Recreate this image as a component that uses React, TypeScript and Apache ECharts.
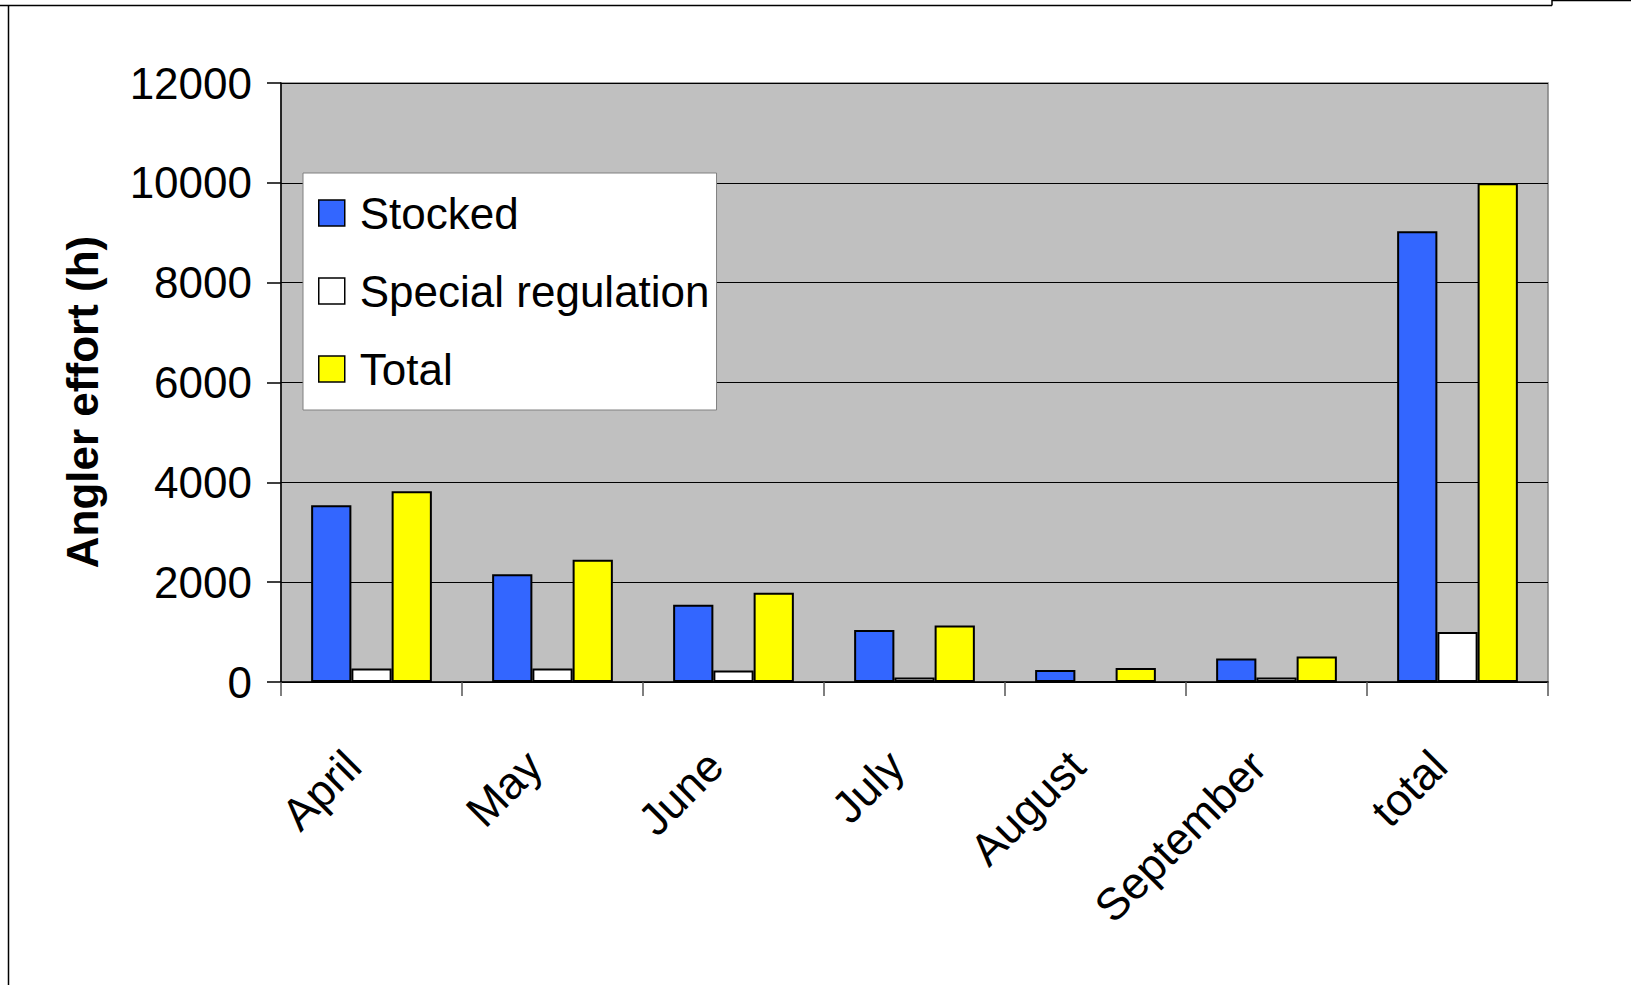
import React, { useEffect, useRef } from "react";
import * as echarts from "echarts";

const categories = ["April", "May", "June", "July", "August", "September", "total"];
const stocked = [3540, 2160, 1550, 1040, 240, 470, 9030];
const specialRegulation = [270, 270, 230, 90, 0, 90, 1000];
const totalEffort = [3820, 2450, 1790, 1130, 280, 510, 9990];
const yTicks = { min: 0, max: 12000, interval: 2000 };

const FONT = "'Liberation Sans', Arial, sans-serif";

export default function App() {
  const ref = useRef<HTMLDivElement>(null);
  useEffect(() => {
    if (!ref.current) return;
    const chart = echarts.init(ref.current, null, { renderer: "svg" });
    const barStyle = (color: string) => ({
      color,
      borderColor: "#000",
      borderWidth: 2,
    });
    chart.setOption({
      animation: false,
      backgroundColor: "#fff",
      grid: {
        left: 281,
        top: 83,
        right: 83,
        bottom: 303,
        show: true,
        backgroundColor: "#C0C0C0",
        borderColor: "#808080",
        borderWidth: 1.5,
      },
      legend: {
        orient: "vertical",
        left: 303,
        top: 173,
        backgroundColor: "#fff",
        borderColor: "#808080",
        borderWidth: 1,
        padding: [18, 7, 19, 15],
        itemWidth: 26,
        itemHeight: 26,
        itemGap: 34,
        icon: "rect",
        itemStyle: { borderColor: "#000", borderWidth: 1.5 },
        textStyle: { fontFamily: FONT, fontSize: 44, color: "#000", padding: [0, 0, 0, 10] },
        data: ["Stocked", "Special regulation", "Total"],
      },
      xAxis: {
        type: "category",
        data: categories,
        boundaryGap: true,
        axisLine: { show: true, lineStyle: { color: "#000", width: 1.5 } },
        axisTick: { show: true, length: 14, lineStyle: { color: "#555", width: 1.5 } },
        axisLabel: {
          rotate: 45,
          margin: 58,
          padding: [0, 26, 0, 0],
          fontFamily: FONT,
          fontSize: 45,
          color: "#000",
          interval: 0,
        },
      },
      yAxis: {
        type: "value",
        min: yTicks.min,
        max: yTicks.max,
        interval: yTicks.interval,
        axisLine: { show: true, lineStyle: { color: "#000", width: 1.5 } },
        axisTick: { show: true, length: 14, lineStyle: { color: "#000", width: 1.5 } },
        splitLine: { show: true, lineStyle: { color: "#000", width: 1.2 } },
        axisLabel: {
          margin: 29,
          fontFamily: FONT,
          fontSize: 44,
          color: "#000",
          formatter: (v: number) => String(v),
        },
      },
      series: [
        {
          name: "Stocked",
          type: "bar",
          data: stocked,
          barGap: "0%",
          barCategoryGap: "33.3%",
          itemStyle: barStyle("#3366FF"),
        },
        {
          name: "Special regulation",
          type: "bar",
          data: specialRegulation,
          barGap: "0%",
          barCategoryGap: "33.3%",
          itemStyle: barStyle("#FFFFFF"),
        },
        {
          name: "Total",
          type: "bar",
          data: totalEffort,
          barGap: "0%",
          barCategoryGap: "33.3%",
          itemStyle: barStyle("#FFFF00"),
        },
      ],
      graphic: [
        {
          type: "text",
          x: 82,
          y: 402,
          rotation: Math.PI / 2,
          style: {
            text: "Angler effort (h)",
            fontFamily: FONT,
            fontSize: 44,
            fontWeight: "bold",
            fill: "#000",
            align: "center",
            verticalAlign: "middle",
          },
        },
        { type: "line", shape: { x1: 0, y1: 5.5, x2: 1552, y2: 5.5 }, style: { stroke: "#000", lineWidth: 1.5 } },
        { type: "line", shape: { x1: 8.5, y1: 5, x2: 8.5, y2: 985 }, style: { stroke: "#000", lineWidth: 1.5 } },
        { type: "line", shape: { x1: 1552, y1: 0, x2: 1552, y2: 5.5 }, style: { stroke: "#000", lineWidth: 1.5 } },
        { type: "line", shape: { x1: 1552, y1: 0.5, x2: 1631, y2: 0.5 }, style: { stroke: "#000", lineWidth: 1.5 } },
      ],
    });
    return () => chart.dispose();
  }, []);
  return (
    <div
      ref={ref}
      style={{ position: "fixed", left: 0, top: 0, width: 1631, height: 985 }}
    />
  );
}
